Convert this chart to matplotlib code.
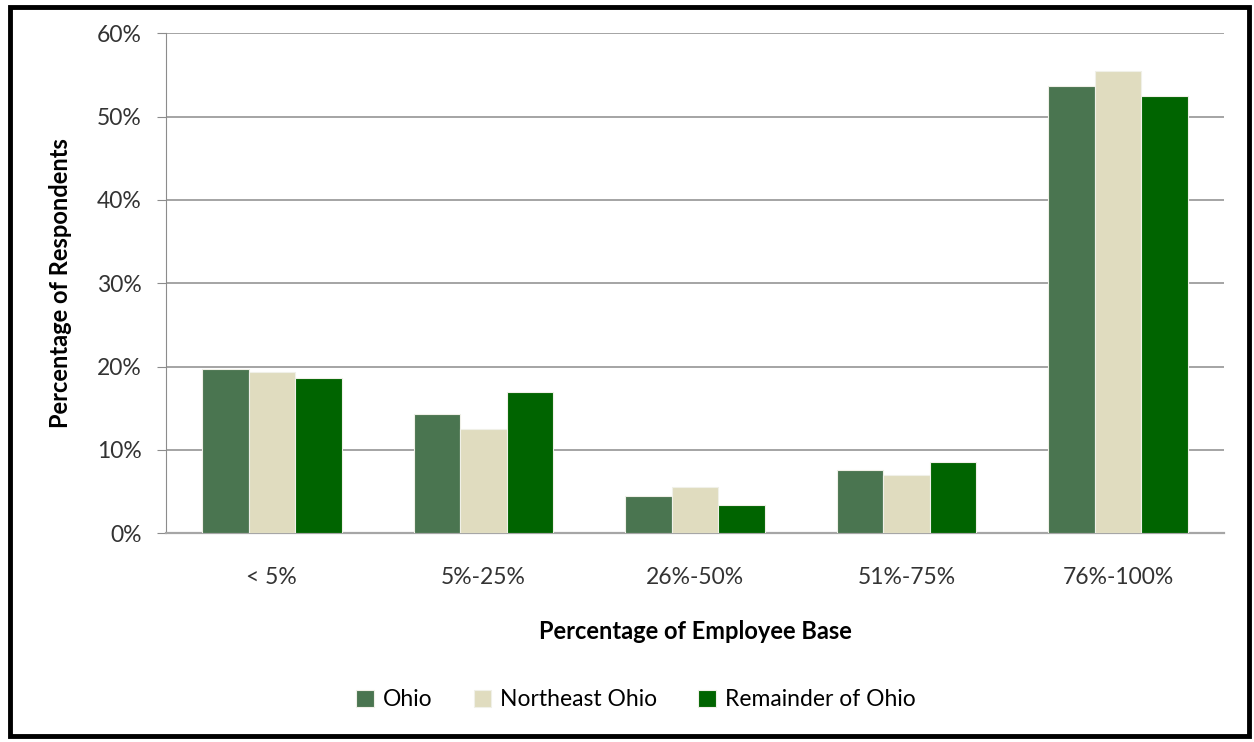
import matplotlib.pyplot as plt
import numpy as np
from matplotlib.patches import Rectangle
from matplotlib.ticker import PercentFormatter

categories = ["< 5%", "5%-25%", "26%-50%", "51%-75%", "76%-100%"]
ohio = [19.7, 14.3, 4.5, 7.6, 53.7]
northeast_ohio = [19.4, 12.5, 5.6, 7.0, 55.5]
remainder_ohio = [18.6, 16.9, 3.4, 8.5, 52.5]

series_names = ["Ohio", "Northeast Ohio", "Remainder of Ohio"]
colors = ["#4a7550", "#e0dcbf", "#006400"]

plt.rcParams["font.family"] = ["Lato", "DejaVu Sans"]

fig = plt.figure(figsize=(12.54, 7.42), dpi=100)
ax = fig.add_axes([166 / 1254, 1 - 533.3 / 742, (1224 - 166) / 1254, 500 / 742])

x = np.arange(len(categories))
width = 0.22
for i, (vals, name, c) in enumerate(zip([ohio, northeast_ohio, remainder_ohio], series_names, colors)):
    ax.bar(x + (i - 1) * width, vals, width, color=c, label=name,
           edgecolor="#f0f0e8", linewidth=0.8, zorder=3)

ax.set_xlim(-0.5, len(categories) - 0.5)
ax.set_ylim(0, 60)
ax.set_yticks(range(0, 61, 10))
ax.yaxis.set_major_formatter(PercentFormatter(decimals=0))
ax.set_xticks(x)
ax.set_xticklabels(categories)

ax.grid(axis="y", color="#8c8c8c", linewidth=1.1, zorder=0)
for s in ["top", "right"]:
    ax.spines[s].set_visible(False)
ax.spines["left"].set_color("#8c8c8c")
ax.spines["bottom"].set_color("#a6a6a6")
ax.spines["bottom"].set_linewidth(1.6)
ax.tick_params(axis="y", length=6.5, color="#8c8c8c", labelsize=16.5, labelcolor="#333333", pad=11)
ax.tick_params(axis="x", length=0, labelsize=16.5, labelcolor="#333333", pad=24)

ax.set_ylabel("Percentage of Respondents", fontsize=17, fontweight="bold", labelpad=18)
ax.set_xlabel("Percentage of Employee Base", fontsize=17, fontweight="bold", labelpad=23)

fig.legend(loc="center", bbox_to_anchor=(636 / 1254, 1 - 700 / 742), ncol=3,
           frameon=False, fontsize=16.5, handlelength=0.75, handleheight=0.75,
           handletextpad=0.4, columnspacing=1.8)

fig.add_artist(Rectangle((9.5 / 1254, 6 / 742), (1250 - 11) / 1254, (736 - 7) / 742,
                         transform=fig.transFigure, fill=False, edgecolor="black", linewidth=3.5))

fig.savefig("out.png", dpi=100, facecolor="white")
